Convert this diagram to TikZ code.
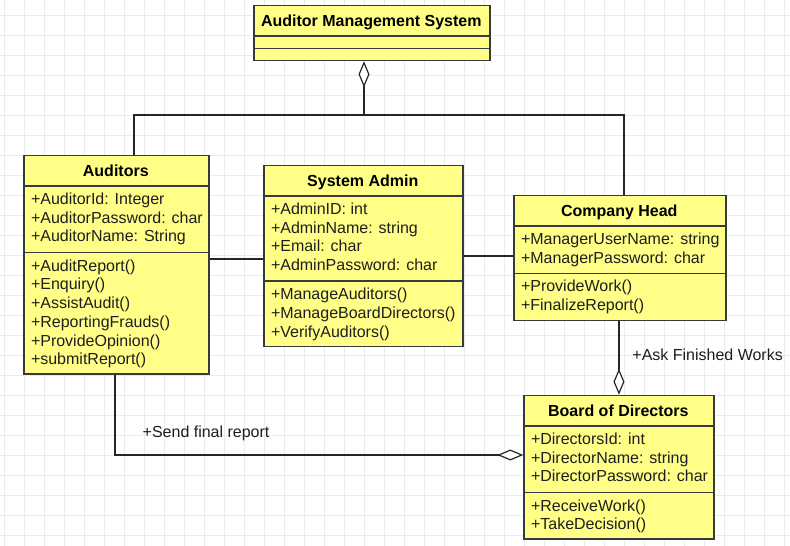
\documentclass[tikz,border=0pt]{standalone}
\usepackage{fontspec}
\setmainfont{Liberation Sans}
\usetikzlibrary{arrows.meta}
\definecolor{gridc}{RGB}{235,235,235}
\definecolor{clsfill}{RGB}{255,255,136}
\definecolor{clsline}{RGB}{54,57,61}
\definecolor{txtc}{RGB}{30,30,30}
\begin{document}
\begin{tikzpicture}[x=1pt,y=-1pt,
  cls/.style={draw=clsline, fill=clsfill, line width=1.3pt, anchor=north west, inner sep=0pt},
  divider/.style={draw=clsline, line width=1.3pt},
  ctitle/.style={font=\bfseries\fontsize{16}{19}\selectfont, text=black, inner sep=0pt, text height=11.5pt, text depth=0pt},
  txt/.style={font=\fontsize{16}{19}\selectfont, text=txtc, inner sep=0pt, anchor=base west},
  conn/.style={draw=black!85, line width=1.2pt},
  agg/.style={conn, -{Diamond[fill=white,length=26pt,width=11pt]}},
  gridline/.style={draw=gridc, line width=1pt}
]
\useasboundingbox[fill=white] (0,0) rectangle (790,546);
% grid
\foreach \x in {4,24,...,784} \draw[gridline] (\x,0) -- (\x,546);
\foreach \y in {15,35,...,535} \draw[gridline] (0,\y) -- (790,\y);

% class boxes
\node[cls, minimum width=236pt, minimum height=55.3pt] (ams) at (253.3,4.7) {};
\node[cls, minimum width=185pt, minimum height=218.6pt] (aud) at (23.3,154.7) {};
\node[cls, minimum width=199pt, minimum height=181pt] (sa) at (263.3,164.7) {};
\node[cls, minimum width=212pt, minimum height=125.3pt] (ch) at (513.3,194.7) {};
\node[cls, minimum width=190pt, minimum height=143.6pt] (bod) at (523.3,394.7) {};

% dividers
\draw[divider] (ams.west |- 0,36) -- (ams.east |- 0,36);
\draw[divider] (ams.west |- 0,48.5) -- (ams.east |- 0,48.5);
\draw[divider] (aud.west |- 0,186) -- (aud.east |- 0,186);
\draw[divider] (aud.west |- 0,252.7) -- (aud.east |- 0,252.7);
\draw[divider] (sa.west |- 0,196) -- (sa.east |- 0,196);
\draw[divider] (sa.west |- 0,281) -- (sa.east |- 0,281);
\draw[divider] (ch.west |- 0,226) -- (ch.east |- 0,226);
\draw[divider] (ch.west |- 0,273.3) -- (ch.east |- 0,273.3);
\draw[divider] (bod.west |- 0,426) -- (bod.east |- 0,426);
\draw[divider] (bod.west |- 0,492.7) -- (bod.east |- 0,492.7);

% titles
\node[ctitle] (amsT) at (371.3,20.35) {Auditor Management System};
\node[ctitle] (audT) at (115.8,170.35) {Auditors};
\node[ctitle] (saT) at (362.8,180.35) {System Admin};
\node[ctitle] (chT) at (619.3,210.35) {Company Head};
\node[ctitle] (bodT) at (618.3,410.35) {Board of Directors};

% members
\foreach \t [count=\i from 0] in {+AuditorId: Integer, +AuditorPassword: char, +AuditorName: String}
  \node[txt] (audA\i) at (30.8,{204.5+\i*18.7}) {\t};
\foreach \t [count=\i from 0] in {+AuditReport(), +Enquiry(), +AssistAudit(), +ReportingFrauds(), +ProvideOpinion(), +submitReport()}
  \node[txt] (audM\i) at (30.8,{271.2+\i*18.7}) {\t};
\foreach \t [count=\i from 0] in {+AdminID: int, +AdminName: string, +Email: char, +AdminPassword: char}
  \node[txt] (saA\i) at (270.8,{214.5+\i*18.7}) {\t};
\foreach \t [count=\i from 0] in {+ManageAuditors(), +ManageBoardDirectors(), +VerifyAuditors()}
  \node[txt] (saM\i) at (270.8,{299.5+\i*18.9}) {\t};
\foreach \t [count=\i from 0] in {+ManagerUserName: string, +ManagerPassword: char}
  \node[txt] (chA\i) at (520.8,{244.5+\i*18.7}) {\t};
\foreach \t [count=\i from 0] in {+ProvideWork(), +FinalizeReport()}
  \node[txt] (chM\i) at (520.8,{291.8+\i*18.7}) {\t};
\foreach \t [count=\i from 0] in {+DirectorsId: int, +DirectorName: string, +DirectorPassword: char}
  \node[txt] (bodA\i) at (530.8,{444.5+\i*18.7}) {\t};
\foreach \t [count=\i from 0] in {+ReceiveWork(), +TakeDecision()}
  \node[txt] (bodM\i) at (530.8,{511.2+\i*18.0}) {\t};

% connectors
\coordinate (j1) at (134,115);
\coordinate (j2) at (624,115);
\coordinate (jm) at (364,115);
\draw[conn] (j1 |- aud.north) -- (j1) -- (j2) -- (j2 |- ch.north);
\draw[agg] (jm) -- (jm |- ams.south);
\draw[conn] (aud.east |- 0,259) -- (sa.west |- 0,259);
\draw[conn] (sa.east |- 0,256) -- (ch.west |- 0,256);
\draw[agg] (bod.north |- ch.south) -- (bod.north);
\coordinate (k) at (115,455);
\draw[agg] (k |- aud.south) -- (k) -- (bod.west |- k);

% labels
\node[txt] (lab1) at (632.2,360.6) {+Ask Finished Works};
\node[txt] (lab2) at (142.5,437.2) {+Send final report};
\end{tikzpicture}
\end{document}
